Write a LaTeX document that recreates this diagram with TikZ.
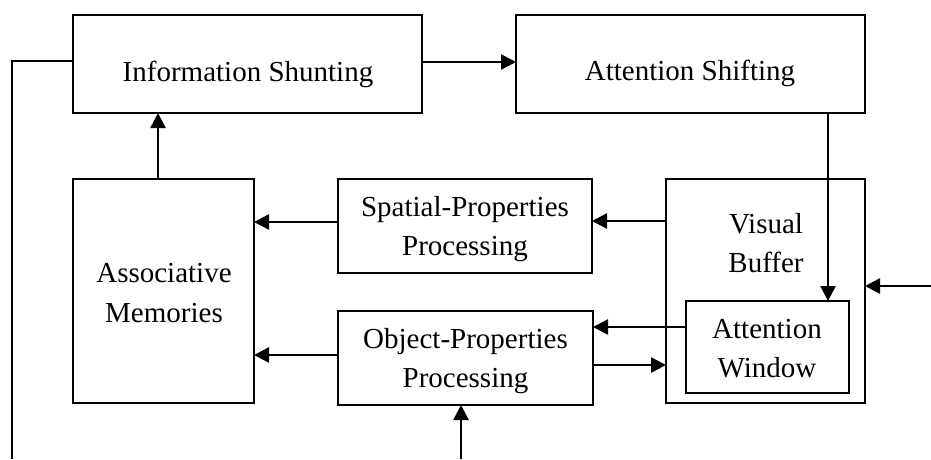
\documentclass[tikz,border=0pt]{standalone}
\usepackage{fontspec}
\setmainfont{Liberation Serif}
\usetikzlibrary{arrows.meta}
\tikzset{
  box/.style={draw=black, line width=1.9pt, rectangle, inner sep=0pt, outer sep=0pt},
  lbl/.style={anchor=base, inner sep=0pt, font=\fontsize{29}{39}\selectfont},
  conn/.style={line width=2.6pt},
  arr/.style={conn, -{Triangle[length=15pt,width=15pt]}}
}
\begin{document}
\begin{tikzpicture}[x=1pt,y=-1pt]
\useasboundingbox (0,0) rectangle (931,459);
% boxes
\node[box, minimum width=349pt, minimum height=98pt] (info) at (247.5,64) {};
\node[box, minimum width=349pt, minimum height=98pt] (shift) at (690.5,64) {};
\node[box, minimum width=181pt, minimum height=224pt] (assoc) at (163.5,291) {};
\node[box, minimum width=254pt, minimum height=94pt] (spatial) at (465,226) {};
\node[box, minimum width=255pt, minimum height=94pt] (object) at (465.5,358) {};
\node[box, minimum width=199pt, minimum height=224pt] (vb) at (765.5,291) {};
\node[box, minimum width=163pt, minimum height=92pt] (aw) at (767.5,347) {};
% labels
\node[lbl] (tinfo) at (248,81) {Information Shunting};
\node[lbl] (tshift) at (690,80) {Attention Shifting};
\node[lbl] (tassoc1) at (164,282) {Associative};
\node[lbl] (tassoc2) at (164,322) {Memories};
\node[lbl] (tsp1) at (465,216) {Spatial-Properties};
\node[lbl] (tsp2) at (465,255) {Processing};
\node[lbl] (tob1) at (465.5,348) {Object-Properties};
\node[lbl] (tob2) at (465.5,387) {Processing};
\node[lbl] (tvb1) at (766,233) {Visual};
\node[lbl] (tvb2) at (766,272) {Buffer};
\node[lbl] (taw1) at (767,338) {Attention};
\node[lbl] (taw2) at (767,377) {Window};
% free ends
\coordinate (leftbot) at (12,459);
\coordinate (rightin) at (931,286);
\coordinate (botin) at (461,459);
% connectors
\draw[box] (info.west |- 0,61) -- (12,61) -- (leftbot);
\draw[arr] (info.east |- 0,62) -- (shift.west |- 0,62);
\draw[arr] (shift.south -| 828,0) -- (aw.north -| 828,0);
\draw[arr] (assoc.north -| 158,0) -- (info.south -| 158,0);
\draw[arr] (spatial.west |- 0,222) -- (assoc.east |- 0,222);
\draw[arr] (vb.west |- 0,221) -- (spatial.east |- 0,221);
\draw[arr] (object.west |- 0,355) -- (assoc.east |- 0,355);
\draw[arr] (aw.west |- 0,327) -- (object.east |- 0,327);
\draw[arr] (object.east |- 0,365) -- (vb.west |- 0,365);
\draw[arr] (rightin) -- (vb.east |- rightin);
\draw[arr] (botin) -- (object.south -| botin);
\end{tikzpicture}
\end{document}
